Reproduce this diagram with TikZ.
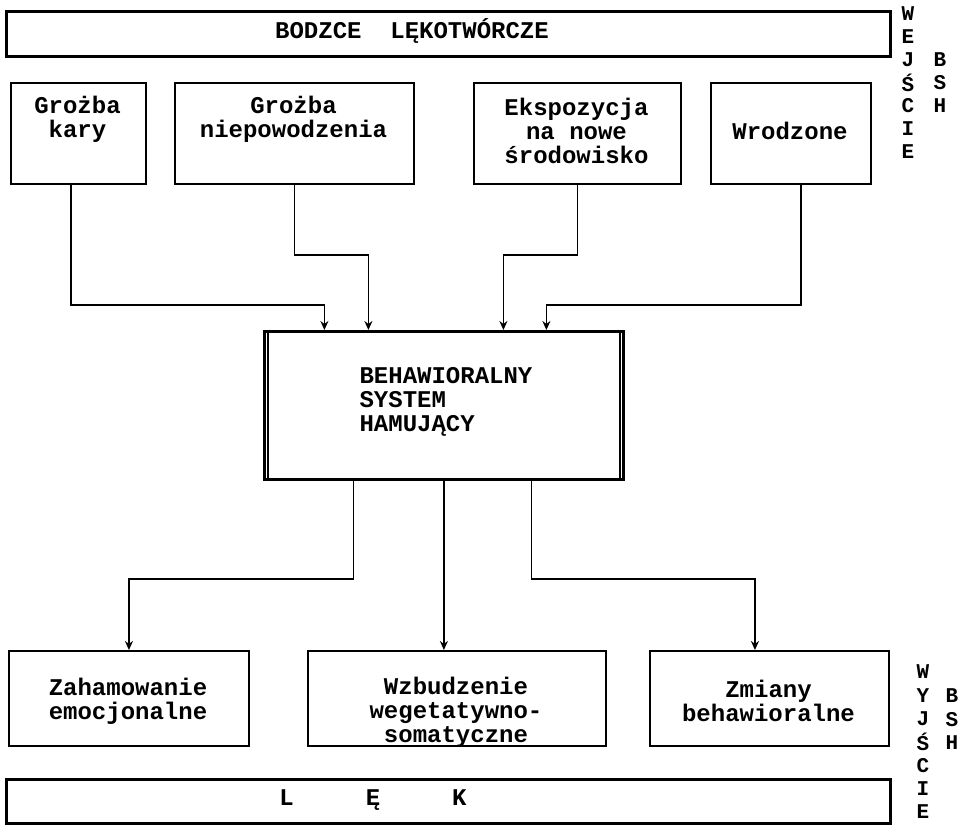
\documentclass[tikz,border=0pt]{standalone}
\usepackage{fontspec}
\setmonofont{Liberation Mono}
\usetikzlibrary{arrows.meta}
\begin{document}
\begin{tikzpicture}[x=1pt,y=-1pt,
  txt/.style={font=\ttfamily\bfseries\fontsize{24}{24}\selectfont, inner sep=0pt, align=center},
  side/.style={font=\ttfamily\bfseries\fontsize{21}{21}\selectfont, inner sep=0pt},
  box/.style={draw, line width=1.9pt, inner sep=0pt, anchor=north west},
  wide/.style={draw, line width=3.2pt, inner sep=0pt, anchor=north west},
  conn/.style={line width=1.8pt, -{Stealth[length=9pt,width=8pt]}},
]
\useasboundingbox (0,0) rectangle (961,831);

% frames of the input and output bands
\node[wide, minimum width=884pt, minimum height=45pt] (bodzce) at (5,10) {};
\node[wide, minimum width=884pt, minimum height=44pt] (lek) at (5,778) {};

% stimulus boxes
\node[box, minimum width=135pt, minimum height=101pt] (kara) at (10,82) {};
\node[box, minimum width=239pt, minimum height=101pt] (niep) at (174,82) {};
\node[box, minimum width=207pt, minimum height=101pt] (eksp) at (473,82) {};
\node[box, minimum width=160pt, minimum height=101pt] (wrod) at (710,82) {};

% central system box with doubled side edges
\node[draw, line width=2.8pt, inner sep=0pt, anchor=north west,
      minimum width=359pt, minimum height=148pt] (bhs) at (263,330) {};
\draw[line width=1.4pt] ([xshift=5pt]bhs.north west) -- ([xshift=5pt]bhs.south west);
\draw[line width=1.4pt] ([xshift=-5pt]bhs.north east) -- ([xshift=-5pt]bhs.south east);

% response boxes
\node[box, minimum width=240pt, minimum height=95pt] (zah) at (8,650) {};
\node[box, minimum width=298pt, minimum height=95pt] (wzb) at (307,650) {};
\node[box, minimum width=239pt, minimum height=95pt] (zmi) at (649,650) {};

% texts
\node[txt] at (412,31) {BODZCE\ \ LĘKOTWÓRCZE};
\node[txt] at (77.5,119) {Grożba\\kary};
\node[txt] at (293.5,119) {Grożba\\niepowodzenia};
\node[txt] at (576.5,131) {Ekspozycja\\na nowe\\środowisko};
\node[txt] at (790,131) {Wrodzone};
\node[txt, align=left] at (446,402) {BEHAWIORALNY\\SYSTEM\\HAMUJĄCY};
\node[txt] at (128,701) {Zahamowanie\\emocjonalne};
\node[txt] at (456,712) {Wzbudzenie\\wegetatywno-\\somatyczne};
\node[txt] at (768.5,701) {Zmiany\\behawioralne};
\node[txt] at (373,800) {L\ \ \ \ \ Ę\ \ \ \ \ K};

% vertical side labels
\foreach \c [count=\i from 0] in {W,E,J,Ś,C,I,E}
  \node[side] at (908,14+23*\i) {\c};
\foreach \c [count=\i from 0] in {B,S,H}
  \node[side] at (940,60+23*\i) {\c};
\foreach \c [count=\i from 0] in {W,Y,J,Ś,C,I,E}
  \node[side] at (923,672+23.3*\i) {\c};
\foreach \c [count=\i from 0] in {B,S,H}
  \node[side] at (952,696+23.3*\i) {\c};

% inputs into the system
\draw[conn] ([xshift=-7.5pt]kara.south) |- ([xshift=-119.5pt,yshift=25pt]bhs.north) -- ([xshift=-119.5pt]bhs.north);
\draw[conn] (niep.south) |- ([xshift=-75.5pt,yshift=75pt]bhs.north) -- ([xshift=-75.5pt]bhs.north);
\draw[conn] (eksp.south) |- ([xshift=59.5pt,yshift=75pt]bhs.north) -- ([xshift=59.5pt]bhs.north);
\draw[conn] ([xshift=10pt]wrod.south) |- ([xshift=102.5pt,yshift=25pt]bhs.north) -- ([xshift=102.5pt]bhs.north);

% outputs of the system
\draw[conn] ([xshift=-90.5pt]bhs.south) -- ++(0,98) -| (zah.north);
\draw[conn] (bhs.south) -- (bhs.south |- wzb.north);
\draw[conn] ([xshift=87.5pt]bhs.south) -- ++(0,98) -| ([xshift=-14.5pt]zmi.north);
\end{tikzpicture}
\end{document}
